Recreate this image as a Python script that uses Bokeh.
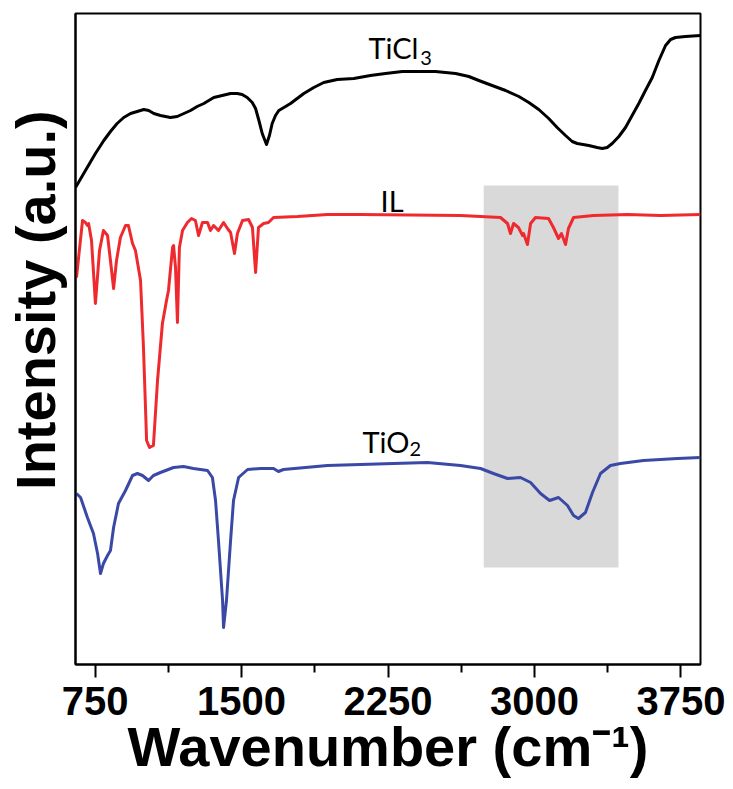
from bokeh.plotting import figure
from bokeh.models import Label, Range1d, FixedTicker
from bokeh.embed import file_html
from bokeh.resources import INLINE

# ---- data (wavenumber in cm^-1, intensity in a.u.) ----
ticl3_wn = [650, 710, 752, 795, 829, 863, 897, 932, 966, 1000, 1025, 1051, 1085, 1136,
            1171, 1205, 1239, 1273, 1307, 1358, 1401, 1444, 1478, 1503, 1529, 1555, 1572,
            1589, 1606, 1628, 1643, 1657, 1674, 1691, 1717, 1751, 1785, 1819, 1870, 1921,
            1990, 2075, 2160, 2237, 2323, 2408, 2493, 2596, 2664, 2715, 2783, 2852, 2920,
            2971, 3022, 3073, 3116, 3159, 3193, 3219, 3278, 3321, 3347, 3372, 3398, 3432,
            3466, 3500, 3534, 3568, 3603, 3637, 3671, 3697, 3722, 3773, 3850]
ticl3_int = [477, 497, 511, 524, 533, 541, 547, 551, 553, 555, 554, 551, 549, 547,
             548, 551, 554, 558, 561, 567, 569, 571, 571, 570, 567, 562, 556,
             544, 531, 520, 529, 541, 549, 554, 557, 561, 566, 571, 577, 582,
             585, 586, 589, 591, 593, 593, 593, 591, 588, 584, 579, 574, 568,
             562, 555, 546, 537, 529, 523, 521, 519, 517, 516, 517, 521, 528,
             537, 549, 561, 574, 587, 604, 619, 625, 627, 628, 629]

il_wn = [655, 686, 701, 711, 717, 732, 752, 773, 793, 814, 829, 845, 860, 880, 906, 921,
         942, 957, 983, 998, 1014, 1029, 1049, 1070, 1095, 1116, 1126, 1147, 1152, 1162,
         1172, 1182, 1198, 1223, 1244, 1264, 1280, 1300, 1326, 1341, 1357, 1382, 1408,
         1428, 1444, 1464, 1479, 1505, 1536, 1556, 1572, 1587, 1613, 1638, 1664, 1787,
         1940, 2109, 2621, 2826, 2862, 2877, 2893, 2918, 2939, 2944, 2964, 2980, 3005,
         3072, 3097, 3123, 3138, 3159, 3174, 3200, 3302, 3476, 3645, 3850]
il_int = [387, 444, 442, 439, 441, 424, 361, 414, 434, 429, 404, 376, 404, 427, 439, 439,
          421, 414, 384, 317, 224, 217, 219, 284, 341, 364, 374, 417, 419, 397,
          342, 417, 434, 442, 446, 444, 429, 442, 442, 434, 439, 434, 442,
          436, 432, 411, 431, 444, 445, 437, 392, 437, 441, 442, 447, 448,
          450, 450, 449, 447, 441, 431, 441, 437, 429, 431, 420, 441, 447,
          446, 437, 426, 431, 420, 436, 447, 449, 450, 449, 450]

tio2_wn = [655, 676, 711, 742, 763, 778, 793, 814, 829, 845, 870, 906, 942, 967, 993, 1024,
           1049, 1085, 1152, 1203, 1254, 1326, 1351, 1367, 1382, 1403, 1408, 1423, 1444,
           1459, 1485, 1531, 1597, 1664, 1689, 1715, 1940, 2278, 2452, 2621, 2724, 2790,
           2862, 2928, 2980, 3031, 3077, 3123, 3169, 3200, 3225, 3261, 3297, 3338, 3389,
           3440, 3558, 3732, 3850]
tio2_int = [171, 167, 147, 131, 111, 91, 101, 109, 114, 137, 161, 174, 189, 191, 189, 184,
            189, 192, 197, 198, 196, 194, 187, 164, 124, 64, 37, 64, 124,
            164, 187, 195, 196, 196, 193, 195, 199, 201, 202, 199, 196, 191,
            186, 187, 182, 171, 164, 167, 159, 149, 146, 152, 172, 191, 199,
            201, 204, 206, 207]

band_wn = [2740, 3430]
band_int = [97, 479]

major_ticks = [750, 1500, 2250, 3000, 3750]
minor_ticks = [1125, 1875, 2625, 3375]

# ---- figure ----
p = figure(width=733, height=789, output_backend="svg", toolbar_location=None,
           x_range=Range1d(650, 3850), y_range=Range1d(0, 651),
           min_border_left=75, min_border_right=33, min_border_top=13,
           min_border_bottom=125)
p.grid.visible = False
p.outline_line_color = "black"
p.outline_line_width = 2
p.outline_line_alpha = 1.0
p.background_fill_color = "white"
p.border_fill_color = "white"

xa = p.xaxis[0]
xa.ticker = FixedTicker(ticks=major_ticks, minor_ticks=minor_ticks)
xa.major_tick_in = 0
xa.major_tick_out = 13
xa.minor_tick_in = 0
xa.minor_tick_out = 8
xa.axis_line_width = 2
xa.major_tick_line_width = 2
xa.minor_tick_line_width = 2
xa.major_label_text_font = "Liberation Sans"
xa.major_label_text_font_style = "bold"
xa.major_label_text_font_size = "40px"
xa.major_label_text_color = "black"
xa.major_label_standoff = 9
xa.axis_label = "Wavenumber (cm\u207b\u00b9)"
xa.axis_label_text_font = "Liberation Sans"
xa.axis_label_text_font_style = "bold"
xa.axis_label_text_font_size = "56px"
xa.axis_label_text_color = "black"
xa.axis_label_standoff = -3

ya = p.yaxis[0]
ya.ticker = FixedTicker(ticks=[])
ya.major_tick_in = 0
ya.major_tick_out = 0
ya.minor_tick_in = 0
ya.minor_tick_out = 0
ya.axis_line_width = 2
ya.major_label_standoff = 0
ya.axis_label = "\u00a0\u00a0\u00a0\u00a0\u00a0Intensity (a.u.)"
ya.axis_label_text_font = "Liberation Sans"
ya.axis_label_text_font_style = "bold"
ya.axis_label_text_font_size = "56px"
ya.axis_label_text_color = "black"
ya.axis_label_standoff = 9

p.quad(left=band_wn[0], right=band_wn[1], bottom=band_int[0], top=band_int[1],
       fill_color="#D9D9D9", line_color=None)

p.line(ticl3_wn, ticl3_int, line_color="black", line_width=3, line_join="round")
p.line(il_wn, il_int, line_color="#EE2A2E", line_width=3, line_join="round")
p.line(tio2_wn, tio2_int, line_color="#3A48A6", line_width=3, line_join="round")

ann_font = "Lato"
def lab(x, y, text, size):
    p.add_layout(Label(x=x, y=y, text=text, text_font=ann_font, text_font_size=size,
                       text_color="black", text_align="left", text_baseline="alphabetic"))

lab(2150, 617, "TiCl", "29px")
lab(2415, 607, "3", "20px")
lab(2212, 464, "IL", "29px")
lab(2119, 223, "TiO", "29px")
lab(2360, 216, "2", "20px")

open("out.html", "w").write(file_html(p, INLINE))
